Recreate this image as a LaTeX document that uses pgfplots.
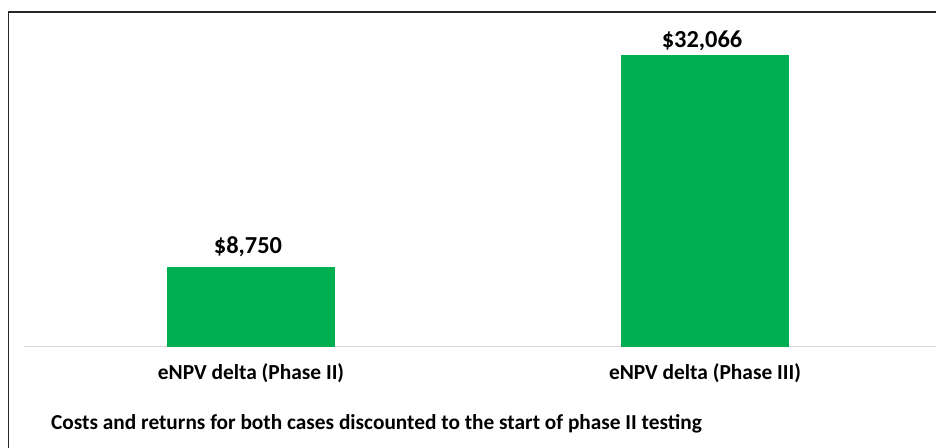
\documentclass[border=0pt]{standalone}
\usepackage{fontspec}
\setmainfont{Carlito}
\usepackage{pgfplots}
\pgfplotsset{compat=1.18}
\definecolor{bargreen}{RGB}{0,176,80}
\definecolor{basegray}{RGB}{217,217,217}
\begin{document}
\begin{tikzpicture}[x=1bp,y=1bp]
\path[use as bounding box] (0,0) rectangle (936,448);
\draw[line width=1.6bp, black!85] (8.5,0) -- (8.5,436) -- (936,436);
\begin{axis}[
  at={(24bp,101bp)}, anchor=south west,
  scale only axis, width=908bp, height=323bp,
  xmin=-0.5, xmax=1.5, ymin=0, ymax=35500,
  ybar, bar width=168bp, bar shift=0pt,
  axis y line=none,
  axis x line*=bottom,
  x axis line style={draw=basegray, line width=1bp, -, shorten >=-4bp},
  xtick={0,1}, major tick length=0pt,
  xticklabels={eNPV delta (Phase II), eNPV delta (Phase III)},
  xticklabel style={font=\fontsize{21.5}{25}\selectfont\bfseries, anchor=base, yshift=-33bp, inner sep=0pt},
  nodes near coords={\$\pgfmathprintnumber[assume math mode=true,1000 sep={,},fixed,precision=0]{\pgfplotspointmeta}},
  every node near coord/.append style={font=\fontsize{24.5}{29}\selectfont\bfseries, anchor=base, inner sep=0pt, black, xshift=-3bp},
  clip=false,
]
\addplot[fill=bargreen, draw=none, every node near coord/.append style={yshift=14bp}] coordinates {(0,8750)};
\addplot[fill=bargreen, draw=none, every node near coord/.append style={yshift=8bp}] coordinates {(1,32066)};
\end{axis}
\node[anchor=base west, font=\fontsize{21.4}{25}\selectfont\bfseries, inner sep=0pt] at (51,18) {Costs and returns for both cases discounted to the start of phase II testing};
\end{tikzpicture}
\end{document}
